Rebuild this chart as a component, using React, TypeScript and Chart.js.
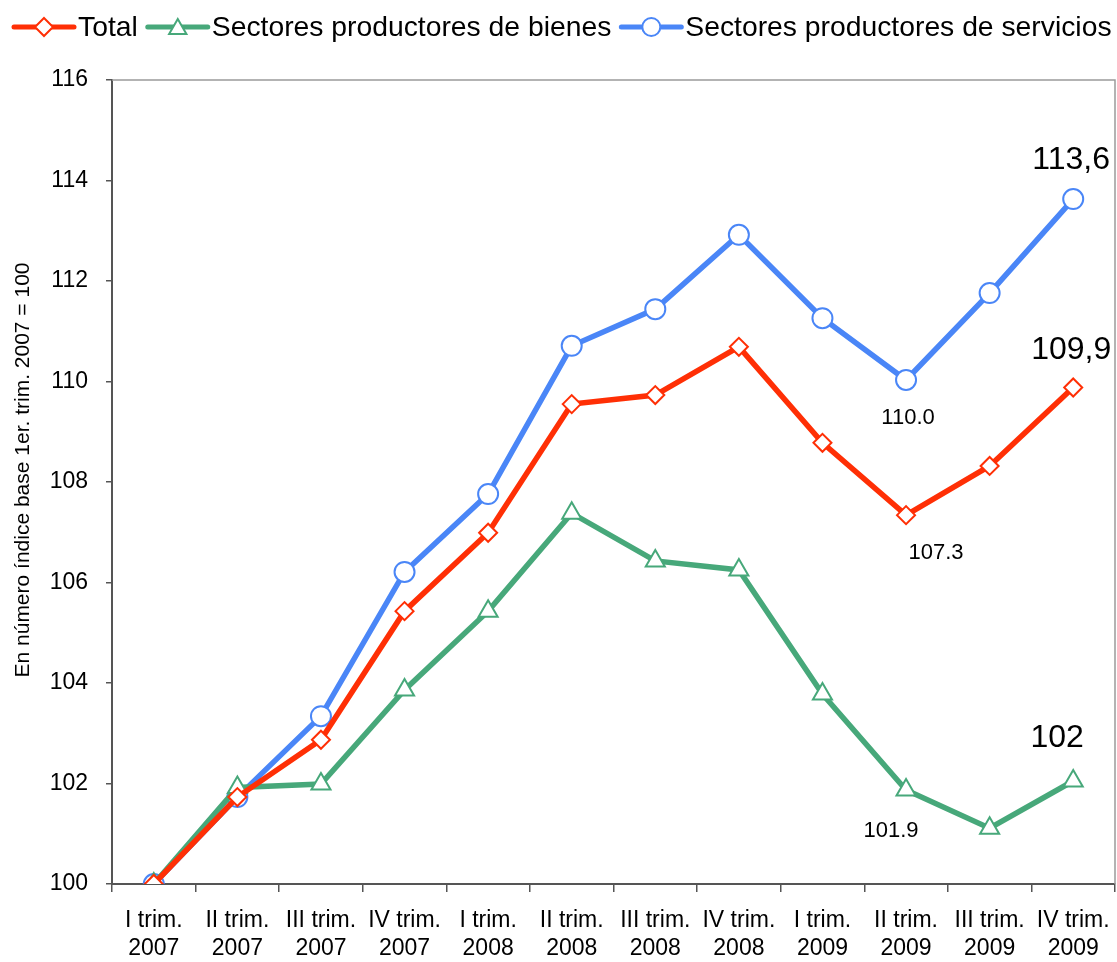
import { useEffect, useRef } from "react";
import { Chart, registerables } from "chart.js";

Chart.register(...registerables);

const categories: string[][] = [
  ["I trim.", "2007"],
  ["II trim.", "2007"],
  ["III trim.", "2007"],
  ["IV trim.", "2007"],
  ["I trim.", "2008"],
  ["II trim.", "2008"],
  ["III trim.", "2008"],
  ["IV trim.", "2008"],
  ["I trim.", "2009"],
  ["II trim.", "2009"],
  ["III trim.", "2009"],
  ["IV trim.", "2009"],
];

const seriesNames = [
  "Total",
  "Sectores productores de bienes",
  "Sectores productores de servicios",
];

const totalValues = [100, 101.73, 102.87, 105.43, 106.99, 109.55, 109.73, 110.69, 108.78, 107.34, 108.32, 109.88];
const goodsValues = [100, 101.92, 101.99, 103.86, 105.43, 107.38, 106.43, 106.25, 103.78, 101.87, 101.11, 102.05];
const servicesValues = [100, 101.73, 103.34, 106.21, 107.76, 110.71, 111.44, 112.92, 111.26, 110.03, 111.76, 113.63];

const yMin = 100;
const yMax = 116;
const yStep = 2;

const yTitle = "En número índice base 1er. trim. 2007 = 100";

// value labels: series index, point index, text
const labelSeries = [2, 0, 1, 2, 0, 1];
const labelPoints = [11, 11, 11, 9, 9, 9];
const labelTexts = ["113,6", "109,9", "102", "110.0", "107.3", "101.9"];

// placement / style of those labels (kept separate from data)
const labelPlacement = [
  { dx: -2, dy: -39, size: 32 },
  { dx: -2, dy: -37, size: 32 },
  { dx: -16, dy: -43, size: 32 },
  { dx: 2, dy: 38, size: 22 },
  { dx: 30, dy: 38, size: 22 },
  { dx: -15, dy: 41, size: 22 },
];

const FONT = "'Liberation Sans', Arial, sans-serif";
const RED = "#ff2f05";
const GREEN = "#47a87a";
const BLUE = "#4a86f7";

function drawMarker(ctx: CanvasRenderingContext2D, style: string, x: number, y: number, r: number, color: string) {
  ctx.save();
  ctx.fillStyle = "#ffffff";
  ctx.strokeStyle = color;
  ctx.lineWidth = 2;
  ctx.beginPath();
  if (style === "circle") {
    ctx.arc(x, y, r, 0, Math.PI * 2);
  } else if (style === "rectRot") {
    ctx.moveTo(x, y - r);
    ctx.lineTo(x + r, y);
    ctx.lineTo(x, y + r);
    ctx.lineTo(x - r, y);
    ctx.closePath();
  } else {
    ctx.moveTo(x, y - r);
    ctx.lineTo(x + r * 0.866, y + r * 0.5);
    ctx.lineTo(x - r * 0.866, y + r * 0.5);
    ctx.closePath();
  }
  ctx.fill();
  ctx.stroke();
  ctx.restore();
}

const legendPlugin = {
  id: "customLegend",
  afterDraw(chart: any) {
    const ctx: CanvasRenderingContext2D = chart.ctx;
    const styles = ["rectRot", "triangle", "circle"];
    const colors = [RED, GREEN, BLUE];
    const radii = [9, 10, 9];
    const y = 27;
    let x = 14;
    ctx.save();
    ctx.font = `28.3px ${FONT}`;
    ctx.textBaseline = "middle";
    ctx.textAlign = "left";
    seriesNames.forEach((name, i) => {
      const lineLen = 60;
      ctx.strokeStyle = colors[i];
      ctx.lineWidth = 5;
      ctx.lineCap = "round";
      ctx.beginPath();
      ctx.moveTo(x, y);
      ctx.lineTo(x + lineLen, y);
      ctx.stroke();
      drawMarker(ctx, styles[i], x + lineLen / 2, y + (styles[i] === "triangle" ? 2 : 0), radii[i], colors[i]);
      x += lineLen + 4;
      ctx.fillStyle = "#000000";
      ctx.fillText(name, x, y + 1);
      x += ctx.measureText(name).width + 10;
    });
    ctx.restore();
  },
};

const yTitlePlugin = {
  id: "yTitle",
  afterDraw(chart: any) {
    const ctx: CanvasRenderingContext2D = chart.ctx;
    const { chartArea } = chart;
    ctx.save();
    ctx.font = `21px ${FONT}`;
    ctx.fillStyle = "#000000";
    ctx.textAlign = "center";
    ctx.textBaseline = "middle";
    ctx.translate(23, (chartArea.top + chartArea.bottom) / 2 - 12);
    ctx.rotate(-Math.PI / 2);
    ctx.fillText(yTitle, 0, 0);
    ctx.restore();
  },
};

const borderPlugin = {
  id: "topRightBorder",
  afterDatasetsDraw(chart: any) {
    const { ctx, chartArea } = chart;
    ctx.save();
    ctx.strokeStyle = "#9a9a9a";
    ctx.lineWidth = 1.5;
    ctx.beginPath();
    ctx.moveTo(chartArea.left, chartArea.top);
    ctx.lineTo(chartArea.right, chartArea.top);
    ctx.lineTo(chartArea.right, chartArea.bottom);
    ctx.stroke();
    ctx.restore();
  },
};

const valueLabelPlugin = {
  id: "valueLabels",
  afterDatasetsDraw(chart: any) {
    const ctx: CanvasRenderingContext2D = chart.ctx;
    ctx.save();
    ctx.fillStyle = "#000000";
    ctx.textAlign = "center";
    ctx.textBaseline = "middle";
    labelTexts.forEach((text, i) => {
      const meta = chart.getDatasetMeta(labelSeries[i]);
      const pt = meta.data[labelPoints[i]];
      const p = labelPlacement[i];
      ctx.font = `${p.size}px ${FONT}`;
      ctx.fillText(text, pt.x + p.dx, pt.y + p.dy);
    });
    ctx.restore();
  },
};

export default function App() {
  const canvasRef = useRef<HTMLCanvasElement | null>(null);

  useEffect(() => {
    const canvas = canvasRef.current;
    if (!canvas) return;
    Chart.defaults.font.family = FONT;
    const chart = new Chart(canvas, {
      type: "line",
      data: {
        labels: categories,
        datasets: [
          {
            label: seriesNames[0],
            data: totalValues,
            borderColor: RED,
            borderWidth: 5.5,
            pointStyle: "rectRot",
            pointRadius: 9,
            pointBorderWidth: 2,
            pointBorderColor: RED,
            pointBackgroundColor: "#ffffff",
            tension: 0,
          },
          {
            label: seriesNames[1],
            data: goodsValues,
            borderColor: GREEN,
            borderWidth: 5.5,
            pointStyle: "triangle",
            pointRadius: 11,
            pointBorderWidth: 2,
            pointBorderColor: GREEN,
            pointBackgroundColor: "#ffffff",
            tension: 0,
          },
          {
            label: seriesNames[2],
            data: servicesValues,
            borderColor: BLUE,
            borderWidth: 5.5,
            pointStyle: "circle",
            pointRadius: 10,
            pointBorderWidth: 2,
            pointBorderColor: BLUE,
            pointBackgroundColor: "#ffffff",
            tension: 0,
          },
        ],
      },
      options: {
        responsive: false,
        animation: false,
        events: [],
        layout: { autoPadding: false, padding: { top: 80, right: 2, left: 0, bottom: 0 } },
        plugins: {
          legend: { display: false },
          tooltip: { enabled: false },
          title: { display: false },
        },
        scales: {
          x: {
            type: "category",
            offset: true,
            grid: {
              display: true,
              offset: true,
              drawOnChartArea: false,
              drawTicks: true,
              tickLength: 8,
              color: "#555555",
              lineWidth: 1.5,
            },
            border: { display: true, color: "#555555", width: 2 },
            ticks: {
              color: "#000000",
              font: { size: 23, lineHeight: 1.22 },
              padding: 15,
              maxRotation: 0,
              autoSkip: false,
            },
            afterFit(scale: any) {
              scale.height = 78;
              scale.paddingLeft = 0;
              scale.paddingRight = 0;
            },
          },
          y: {
            type: "linear",
            min: yMin,
            max: yMax,
            grid: {
              display: true,
              drawOnChartArea: false,
              drawTicks: true,
              tickLength: 6,
              color: "#555555",
              lineWidth: 1.5,
            },
            border: { display: true, color: "#555555", width: 2 },
            ticks: {
              stepSize: yStep,
              color: "#000000",
              font: { size: 23 },
              padding: 18,
            },
            afterFit(scale: any) {
              scale.width = 112;
              scale.paddingTop = 0;
              scale.paddingBottom = 0;
            },
          },
        },
      },
      plugins: [borderPlugin, valueLabelPlugin, legendPlugin, yTitlePlugin],
    });
    return () => chart.destroy();
  }, []);

  return (
    <div style={{ position: "fixed", left: 0, top: 0, width: 1117, height: 962, background: "#ffffff" }}>
      <canvas ref={canvasRef} width={1117} height={962} style={{ width: 1117, height: 962, display: "block" }} />
    </div>
  );
}
